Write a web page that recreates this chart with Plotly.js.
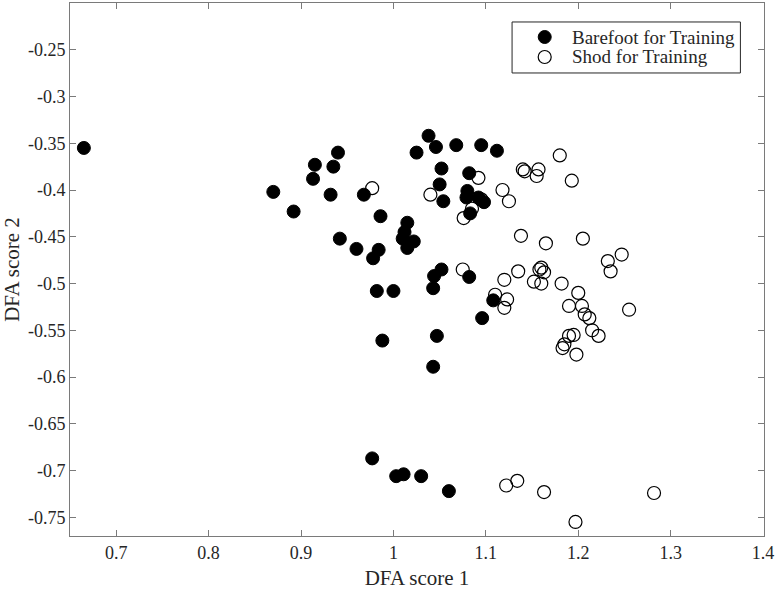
<!DOCTYPE html>
<html>
<head>
<meta charset="utf-8">
<script src="https://cdn.plot.ly/plotly-3.0.1.min.js"></script>
<style>html,body{margin:0;padding:0;background:#fff;}#chart{width:776px;height:597px;}</style>
</head>
<body>
<div id="chart"></div>
<script>
var barefootX = [0.665, 0.870, 0.892, 0.915, 0.913, 0.932, 0.935, 0.940, 0.942, 0.960, 0.968, 0.978, 0.984, 0.986, 0.982, 0.988, 1.000, 0.977, 1.003, 1.011, 1.030, 1.060, 1.010, 1.012, 1.015, 1.015, 1.022, 1.025, 1.038, 1.046, 1.052, 1.050, 1.054, 1.044, 1.043, 1.052, 1.047, 1.043, 1.068, 1.080, 1.079, 1.082, 1.083, 1.082, 1.095, 1.092, 1.098, 1.112, 1.108, 1.096];
var barefootY = [-0.355, -0.402, -0.423, -0.373, -0.388, -0.405, -0.375, -0.360, -0.452, -0.463, -0.405, -0.473, -0.464, -0.428, -0.508, -0.561, -0.508, -0.687, -0.706, -0.704, -0.706, -0.722, -0.452, -0.445, -0.435, -0.462, -0.455, -0.360, -0.342, -0.354, -0.377, -0.394, -0.412, -0.492, -0.505, -0.485, -0.556, -0.589, -0.352, -0.401, -0.408, -0.382, -0.425, -0.493, -0.352, -0.408, -0.413, -0.358, -0.518, -0.537];
var shodX = [0.977, 1.040, 1.076, 1.085, 1.092, 1.095, 1.075, 1.110, 1.118, 1.120, 1.120, 1.123, 1.125, 1.135, 1.138, 1.140, 1.142, 1.152, 1.155, 1.157, 1.158, 1.160, 1.160, 1.163, 1.165, 1.180, 1.182, 1.183, 1.185, 1.190, 1.193, 1.195, 1.190, 1.198, 1.200, 1.204, 1.205, 1.207, 1.212, 1.215, 1.222, 1.232, 1.235, 1.247, 1.255, 1.122, 1.134, 1.163, 1.197, 1.282];
var shodY = [-0.398, -0.405, -0.430, -0.420, -0.387, -0.410, -0.485, -0.512, -0.400, -0.496, -0.526, -0.517, -0.412, -0.487, -0.449, -0.378, -0.380, -0.498, -0.385, -0.378, -0.485, -0.483, -0.500, -0.488, -0.457, -0.363, -0.500, -0.569, -0.565, -0.556, -0.390, -0.555, -0.524, -0.576, -0.510, -0.524, -0.452, -0.533, -0.537, -0.550, -0.556, -0.476, -0.487, -0.469, -0.528, -0.716, -0.711, -0.723, -0.755, -0.724];
var xTicks = [0.7, 0.8, 0.9, 1.0, 1.1, 1.2, 1.3, 1.4];
var xTickLabels = ["0.7", "0.8", "0.9", "1", "1.1", "1.2", "1.3", "1.4"];
var yTicks = [-0.25, -0.3, -0.35, -0.4, -0.45, -0.5, -0.55, -0.6, -0.65, -0.7, -0.75];
var yTickLabels = ["-0.25", "-0.3", "-0.35", "-0.4", "-0.45", "-0.5", "-0.55", "-0.6", "-0.65", "-0.7", "-0.75"];
var seriesNames = ["Barefoot for Training", "Shod for Training"];

var fontFam = "Liberation Serif";
var traces = [
  {x: barefootX, y: barefootY, type: "scatter", mode: "markers", name: seriesNames[0], showlegend: false,
   marker: {symbol: "circle", size: 13, color: "#000000", line: {color: "#000000", width: 1}}},
  {x: shodX, y: shodY, type: "scatter", mode: "markers", name: seriesNames[1], showlegend: false,
   marker: {symbol: "circle-open", size: 13, color: "#000000", line: {color: "#000000", width: 1.2}}}
];
var legShapes = [
  {type: "rect", xref: "paper", yref: "paper", x0: 0.637, x1: 0.966, y0: 0.8687, y1: 0.9644,
   line: {color: "#262626", width: 1}, fillcolor: "#ffffff", layer: "above"},
  {type: "circle", xref: "paper", yref: "paper", xsizemode: "pixel", ysizemode: "pixel",
   xanchor: 0.684, yanchor: 0.9362, x0: -6.5, x1: 6.5, y0: -6.5, y1: 6.5,
   line: {color: "#000", width: 1}, fillcolor: "#000", layer: "above"},
  {type: "circle", xref: "paper", yref: "paper", xsizemode: "pixel", ysizemode: "pixel",
   xanchor: 0.684, yanchor: 0.8987, x0: -6.5, x1: 6.5, y0: -6.5, y1: 6.5,
   line: {color: "#000", width: 1.2}, fillcolor: "rgba(0,0,0,0)", layer: "above"}
];
var legAnn = [
  {text: seriesNames[0], xref: "paper", yref: "paper", x: 0.7205, y: 0.9362, xanchor: "left", yanchor: "middle",
   showarrow: false, font: {family: fontFam, size: 19, color: "#262626"}},
  {text: seriesNames[1], xref: "paper", yref: "paper", x: 0.7205, y: 0.8987, xanchor: "left", yanchor: "middle",
   showarrow: false, font: {family: fontFam, size: 19, color: "#262626"}}
];
var layout = {
  width: 776, height: 597,
  margin: {l: 70, r: 12, t: 3, b: 61},
  paper_bgcolor: "#ffffff", plot_bgcolor: "#ffffff",
  showlegend: false,
  font: {family: fontFam, color: "#262626", size: 18},
  xaxis: {
    range: [0.65, 1.401], tickmode: "array", tickvals: xTicks, ticktext: xTickLabels,
    showgrid: false, zeroline: false, showline: true, mirror: "ticks", linecolor: "#7a7a7a", linewidth: 1,
    ticks: "inside", ticklen: 6, tickcolor: "#7a7a7a", ticklabeloverflow: "allow",
    tickfont: {family: fontFam, size: 18, color: "#262626"},
    title: {text: "DFA score 1", font: {family: fontFam, size: 21, color: "#262626"}, standoff: 8}
  },
  yaxis: {
    range: [-0.77, -0.2], tickmode: "array", tickvals: yTicks, ticktext: yTickLabels,
    showgrid: false, zeroline: false, showline: true, mirror: "ticks", linecolor: "#7a7a7a", linewidth: 1,
    ticks: "inside", ticklen: 6, tickcolor: "#7a7a7a", ticklabeloverflow: "allow",
    tickfont: {family: fontFam, size: 18, color: "#262626"},
    title: {text: "DFA score 2", font: {family: fontFam, size: 21, color: "#262626"}, standoff: 6}
  },
  shapes: legShapes,
  annotations: legAnn
};
Plotly.newPlot("chart", traces, layout, {displayModeBar: false, staticPlot: true});
</script>
</body>
</html>
